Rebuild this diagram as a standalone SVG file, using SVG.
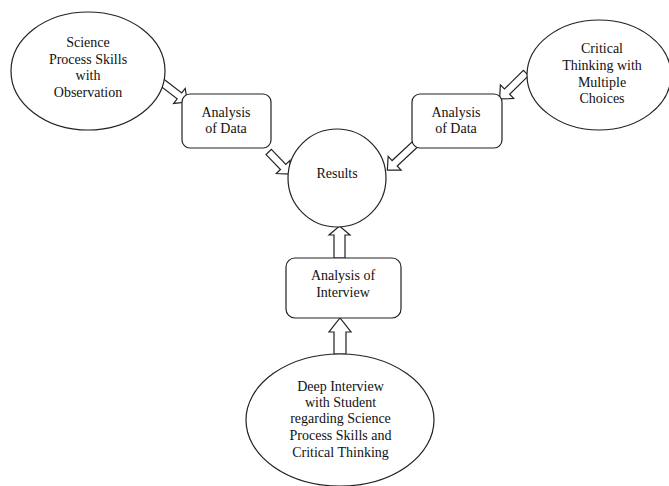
<svg xmlns="http://www.w3.org/2000/svg" width="669" height="486" viewBox="0 0 669 486">
<style>
.shape{fill:#fff;stroke:#222;stroke-width:1.2}
.arr{fill:#fff;stroke:#222;stroke-width:1.2;stroke-linejoin:miter}
.t{font-family:'Liberation Serif','DejaVu Serif',serif;font-size:14px;fill:#111;text-anchor:middle}
</style>
<rect width="669" height="486" fill="#fff"/>
<g id="connectors">
  <polygon class="arr" transform="translate(161.7,82.2) rotate(37.7)" points="0,-3.7 22.4,-3.7 22.4,-9.5 32.4,0 22.4,9.5 22.4,3.7 0,3.7"/>
  <polygon class="arr" transform="translate(268.7,152) rotate(46)" points="0,-3.7 20.8,-3.7 20.8,-9.5 30.8,0 20.8,9.5 20.8,3.7 0,3.7"/>
  <polygon class="arr" transform="translate(526,73) rotate(135.5)" points="0,-3.7 26.6,-3.7 26.6,-9.5 37,0 26.6,9.5 26.6,3.7 0,3.7"/>
  <polygon class="arr" transform="translate(415,144.3) rotate(137)" points="0,-3.7 27.8,-3.7 27.8,-9.5 37.8,0 27.8,9.5 27.8,3.7 0,3.7"/>
  <polygon class="arr" points="334,258 334,235 329,235 339.5,226 350,235 345,235 345,258"/>
  <polygon class="arr" points="334,354 334,332 329,332 340,318 351,332 346,332 346,354"/>
</g>
<g id="science-process">
  <ellipse class="shape" cx="88" cy="71" rx="77" ry="59"/>
  <text class="t" x="88" y="47">Science</text>
  <text class="t" x="88" y="64">Process Skills</text>
  <text class="t" x="88" y="80">with</text>
  <text class="t" x="88" y="97">Observation</text>
</g>
<g id="analysis-data-left">
  <rect class="shape" x="182" y="94" width="89" height="54" rx="8"/>
  <text class="t" x="226" y="117">Analysis</text>
  <text class="t" x="226" y="133">of Data</text>
</g>
<g id="critical-thinking">
  <ellipse class="shape" cx="599" cy="75" rx="72" ry="55"/>
  <text class="t" x="602" y="53">Critical</text>
  <text class="t" x="602" y="70">Thinking with</text>
  <text class="t" x="602" y="87">Multiple</text>
  <text class="t" x="602" y="103">Choices</text>
</g>
<g id="analysis-data-right">
  <rect class="shape" x="412" y="94" width="90" height="54" rx="8"/>
  <text class="t" x="456" y="117">Analysis</text>
  <text class="t" x="456" y="133">of Data</text>
</g>
<g id="results">
  <circle class="shape" cx="337" cy="178" r="49"/>
  <text class="t" x="337" y="178">Results</text>
</g>
<g id="analysis-interview">
  <rect class="shape" x="286" y="258" width="115" height="60" rx="9"/>
  <text class="t" x="343" y="280">Analysis of</text>
  <text class="t" x="343" y="297">Interview</text>
</g>
<g id="deep-interview">
  <ellipse class="shape" cx="340" cy="420" rx="94" ry="66"/>
  <text class="t" x="340.5" y="391">Deep Interview</text>
  <text class="t" x="340.5" y="407">with Student</text>
  <text class="t" x="340.5" y="423">regarding Science</text>
  <text class="t" x="340.5" y="440">Process Skills and</text>
  <text class="t" x="340.5" y="457">Critical Thinking</text>
</g>
</svg>
